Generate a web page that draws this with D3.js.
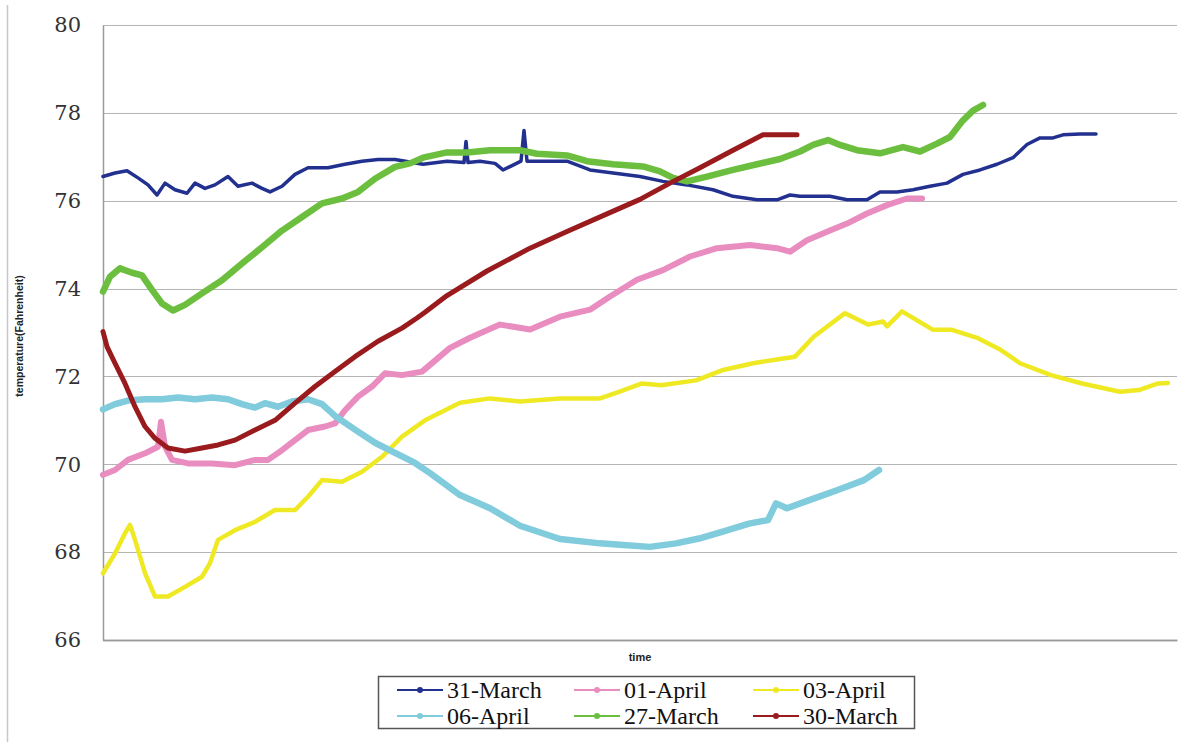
<!DOCTYPE html>
<html>
<head>
<meta charset="utf-8">
<script src="https://cdn.jsdelivr.net/npm/d3@7"></script>
<style>
html,body{margin:0;padding:0;background:#fff;}
svg{display:block;}
</style>
</head>
<body>
<svg id="chart" width="1194" height="742"></svg>
<script>
// ---- data (time index, temperature in °F) ----
const yTicks = [66, 68, 70, 72, 74, 76, 78, 80];
const seriesNames = ["31-March", "01-April", "03-April", "06-April", "27-March", "30-March"];
const seriesColors = ["#22318f", "#e98cbf", "#efe924", "#80cbdc", "#6cbf3e", "#9a1b1e"];

const t31March = [0,12,24,35,45,54,62,72,84,92,102,112,125,135,149,159,167,179,192,205,225,242,259,275,292,320,344,361,363,365,377,392,400,409,418,421,424,444,464,487,510,537,560,584,610,630,654,674,687,697,710,727,744,764,777,794,810,827,844,860,877,894,910,924,937,950,960,977,993];
const v31March = [76.55,76.63,76.68,76.52,76.36,76.13,76.4,76.25,76.17,76.4,76.28,76.36,76.55,76.33,76.4,76.28,76.2,76.33,76.6,76.75,76.75,76.83,76.9,76.94,76.94,76.83,76.9,76.87,77.35,76.87,76.9,76.85,76.7,76.8,76.9,77.6,76.9,76.9,76.9,76.7,76.63,76.55,76.44,76.36,76.25,76.1,76.02,76.02,76.13,76.1,76.1,76.1,76.02,76.02,76.2,76.2,76.25,76.33,76.4,76.6,76.7,76.83,76.98,77.28,77.43,77.43,77.5,77.52,77.52];

const t01April = [0,12,25,42,55,58,62,69,85,109,132,152,165,179,192,205,222,232,242,255,269,282,299,319,347,367,397,427,457,487,507,534,560,587,614,647,674,687,704,727,744,764,784,804,819];
const v01April = [69.76,69.87,70.1,70.25,70.4,70.97,70.4,70.1,70.02,70.02,69.98,70.1,70.1,70.32,70.55,70.78,70.86,70.93,71.23,71.54,71.77,72.07,72.03,72.11,72.65,72.88,73.18,73.07,73.36,73.52,73.82,74.2,74.42,74.73,74.92,74.99,74.92,74.84,75.1,75.32,75.48,75.71,75.9,76.05,76.05];

const t03April = [0,12,22,27,32,42,52,65,82,99,107,115,132,152,172,192,205,219,239,259,279,299,322,357,387,417,457,497,516,539,558,593,619,650,692,711,742,765,780,784,799,830,849,875,898,917,948,979,1017,1036,1055,1065];
const v03April = [67.52,67.97,68.43,68.62,68.28,67.52,66.99,66.99,67.21,67.44,67.75,68.28,68.5,68.69,68.96,68.96,69.26,69.64,69.6,69.83,70.17,70.63,71.0,71.4,71.5,71.43,71.5,71.5,71.65,71.84,71.8,71.91,72.14,72.3,72.45,72.91,73.44,73.18,73.25,73.14,73.48,73.06,73.06,72.87,72.6,72.3,72.03,71.84,71.65,71.69,71.84,71.85];

const t06April = [0,12,25,42,59,75,92,109,125,139,152,162,175,189,205,219,232,252,272,292,312,327,357,387,417,457,497,520,547,573,596,619,646,665,673,684,707,734,761,776];
const v06April = [71.25,71.37,71.45,71.48,71.48,71.52,71.48,71.52,71.48,71.37,71.29,71.39,71.31,71.43,71.48,71.37,71.1,70.79,70.49,70.26,70.03,69.8,69.3,69.0,68.6,68.3,68.2,68.16,68.12,68.2,68.31,68.46,68.65,68.73,69.11,69.0,69.19,69.41,69.64,69.87];

const t27March = [0,7,17,29,39,49,59,70,82,99,119,139,159,179,199,219,239,255,272,292,307,320,344,364,387,417,434,464,484,510,540,557,570,584,604,630,654,677,697,710,725,737,754,777,800,817,834,847,860,870,880];
const v27March = [73.93,74.27,74.46,74.36,74.3,73.97,73.66,73.5,73.63,73.89,74.19,74.57,74.94,75.32,75.63,75.94,76.05,76.2,76.5,76.77,76.85,76.98,77.1,77.1,77.15,77.15,77.07,77.03,76.9,76.83,76.78,76.67,76.52,76.44,76.55,76.7,76.83,76.95,77.12,77.27,77.38,77.27,77.15,77.08,77.22,77.12,77.3,77.45,77.83,78.05,78.18];

const t30March = [0,4,12,22,32,42,52,65,82,99,115,132,152,172,192,212,232,252,275,299,314,322,344,384,427,464,504,537,567,597,630,660,694];
const v30March = [73.02,72.68,72.3,71.84,71.31,70.86,70.59,70.37,70.3,70.37,70.44,70.55,70.78,71.0,71.39,71.77,72.11,72.45,72.8,73.1,73.33,73.46,73.84,74.4,74.92,75.3,75.7,76.03,76.4,76.75,77.15,77.5,77.5];

const seriesTimes = [t31March, t01April, t03April, t06April, t27March, t30March];
const seriesValues = [v31March, v01April, v03April, v06April, v27March, v30March];
const seriesWidths = [3.5, 6, 4.5, 6.5, 6.5, 5];

// ---- drawing ----
const svg = d3.select("#chart");
const plot = {left: 103, right: 1177, top: 25, bottom: 640};

const x = d3.scaleLinear().domain([0, 1074]).range([plot.left, plot.right]);
const y = d3.scaleLinear().domain([66, 80]).range([plot.bottom, plot.top]);

// outer chart frame edge
svg.append("line").attr("x1", 7.5).attr("x2", 7.5).attr("y1", 5).attr("y2", 742)
  .attr("stroke", "#c8c8c8").attr("stroke-width", 1.5);

// gridlines
svg.append("g").selectAll("line").data(yTicks).join("line")
  .attr("x1", plot.left).attr("x2", plot.right)
  .attr("y1", d => Math.round(y(d)) + 0.5).attr("y2", d => Math.round(y(d)) + 0.5)
  .attr("stroke", d => d === 66 ? "#9a9a9a" : "#b4b4b4").attr("stroke-width", d => d === 66 ? 1.5 : 1.2);

// y axis
const yAxis = d3.axisLeft(y).tickValues(yTicks).tickSize(0).tickPadding(22).tickFormat(d3.format("d"));
const gy = svg.append("g").attr("transform", `translate(${plot.left},0)`).call(yAxis);
gy.select(".domain").attr("stroke", "#9a9a9a").attr("stroke-width", 1.5);
gy.selectAll("text").attr("font-family", "'DejaVu Serif', serif").attr("font-size", 21).attr("fill", "#333");

// x axis (no labels)
const gx = svg.append("g").attr("transform", `translate(0,${plot.bottom})`)
  .call(d3.axisBottom(x).tickValues([]).tickSize(0));
gx.select(".domain").attr("stroke", "#9a9a9a").attr("stroke-width", 1.5);

// axis titles
svg.append("text").attr("transform", "translate(23,336) rotate(-90)")
  .attr("text-anchor", "middle").attr("font-family", "'Liberation Sans Narrow', 'Liberation Sans', Arial, sans-serif")
  .attr("font-weight", "bold").attr("font-size", 10.5).attr("fill", "#222")
  .text("temperature(Fahrenheit)");
svg.append("text").attr("x", 640).attr("y", 661)
  .attr("text-anchor", "middle").attr("font-family", "'Liberation Sans Narrow', 'Liberation Sans', Arial, sans-serif")
  .attr("font-weight", "bold").attr("font-size", 11).attr("fill", "#222")
  .text("time");

// lines
const line = d3.line().x(d => x(d[0])).y(d => y(d[1]));
seriesNames.forEach((name, i) => {
  const pts = seriesTimes[i].map((t, j) => [t, seriesValues[i][j]]);
  svg.append("path").datum(pts)
    .attr("fill", "none")
    .attr("stroke", seriesColors[i])
    .attr("stroke-width", seriesWidths[i])
    .attr("stroke-linejoin", "round")
    .attr("stroke-linecap", "round")
    .attr("d", line);
});

// legend
const lg = svg.append("g");
lg.append("rect").attr("x", 378.5).attr("y", 676.5).attr("width", 536).attr("height", 52)
  .attr("fill", "#fff").attr("stroke", "#555").attr("stroke-width", 1.5);
const colX = [397, 574, 753];
const rowY = [690, 716];
seriesNames.forEach((name, i) => {
  const cx = colX[i % 3], cy = rowY[Math.floor(i / 3)];
  const g = lg.append("g");
  g.append("line").attr("x1", cx).attr("x2", cx + 46).attr("y1", cy).attr("y2", cy)
    .attr("stroke", seriesColors[i]).attr("stroke-width", 2);
  g.append("circle").attr("cx", cx + 23).attr("cy", cy).attr("r", 3).attr("fill", seriesColors[i]);
  g.append("text").attr("x", cx + 50).attr("y", cy + 8)
    .attr("font-family", "'Liberation Serif', 'Times New Roman', serif").attr("font-size", 24)
    .attr("fill", "#111").text(name);
});
</script>
</body>
</html>
